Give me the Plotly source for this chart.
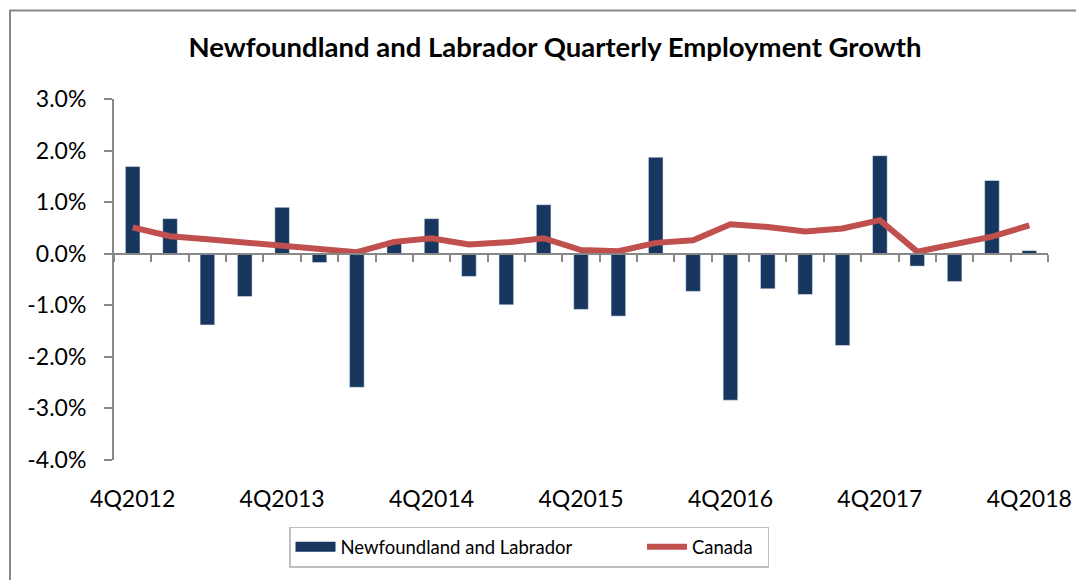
import plotly.graph_objects as go

quarters = ["4Q2012", "1Q2013", "2Q2013", "3Q2013", "4Q2013", "1Q2014", "2Q2014", "3Q2014",
            "4Q2014", "1Q2015", "2Q2015", "3Q2015", "4Q2015", "1Q2016", "2Q2016", "3Q2016",
            "4Q2016", "1Q2017", "2Q2017", "3Q2017", "4Q2017", "1Q2018", "2Q2018", "3Q2018",
            "4Q2018"]
nl_growth = [1.69, 0.68, -1.38, -0.83, 0.90, -0.17, -2.59, 0.25, 0.68, -0.44, -0.99, 0.95,
             -1.08, -1.21, 1.87, -0.73, -2.84, -0.68, -0.79, -1.78, 1.90, -0.24, -0.54, 1.42,
             0.06]
canada_growth = [0.51, 0.34, 0.28, 0.22, 0.15, 0.10, 0.03, 0.23, 0.30, 0.18, 0.22, 0.30,
                 0.07, 0.05, 0.21, 0.26, 0.57, 0.52, 0.43, 0.49, 0.65, 0.04, 0.18, 0.33, 0.55]
x_labels = ["4Q2012", "4Q2013", "4Q2014", "4Q2015", "4Q2016", "4Q2017", "4Q2018"]
y_ticks = [-4, -3, -2, -1, 0, 1, 2, 3]
y_ticktext = ["-4.0%", "-3.0%", "-2.0%", "-1.0%", "0.0%", "1.0%", "2.0%", "3.0%"]

NAVY = "#17375E"
RED = "#C0504D"
GRAY = "#888888"
FONT = "Lato"
PAD = "\u2002"  # en space used to widen legend entries

fig = go.Figure()
fig.add_trace(go.Bar(x=quarters, y=nl_growth, name="Newfoundland and Labrador",
                     marker=dict(color=NAVY), showlegend=False, xaxis="x", yaxis="y"))
fig.add_trace(go.Scatter(x=[None], y=[None], mode="lines",
                         name="Newfoundland and Labrador" + PAD * 7,
                         line=dict(color=NAVY, width=10), xaxis="x", yaxis="y"))
fig.add_trace(go.Scatter(x=quarters, y=canada_growth, mode="lines", name="Canada" + PAD * 1,
                         line=dict(color=RED, width=6), xaxis="x2", yaxis="y"))

# page offset (browser body margin)
OFF = 8
PAGE_W, PAGE_H = 1084, 580
W, H = PAGE_W - OFF, PAGE_H - OFF
# plot area in page pixels
PX0, PX1, PY0, PY1 = 114, 1048, 99, 462
L, R, T, B = PX0 - OFF, PAGE_W - PX1, PY0 - OFF, PAGE_H - PY1
pw, ph = PX1 - PX0, PY1 - PY0

fig.update_layout(
    width=W, height=H, autosize=False,
    margin=dict(l=L, r=R, t=T, b=B),
    paper_bgcolor="white", plot_bgcolor="white",
    font=dict(family=FONT, size=20, color="#000000"),
    bargap=0.61,
    title=dict(text="<b>Newfoundland and Labrador Quarterly Employment Growth</b>",
               x=(555 - OFF) / W, xref="container", xanchor="center",
               y=1 - (47 - OFF) / H, yref="container", yanchor="middle",
               font=dict(family=FONT, size=27.5, color="#000000")),
    xaxis=dict(type="category", categoryorder="array", categoryarray=quarters,
               range=[-0.5, len(quarters) - 0.5],
               tickmode="array", tickvals=x_labels, ticktext=x_labels,
               ticks="", showline=False, showgrid=False, zeroline=False,
               ticklabelstandoff=23, tickfont=dict(size=23)),
    xaxis2=dict(type="category", categoryorder="array", categoryarray=quarters,
                overlaying="x", anchor="free", position=4 / 7,
                range=[-0.5, len(quarters) - 0.5],
                tickmode="array", tickvals=quarters, tickson="boundaries",
                ticks="outside", ticklen=7, tickwidth=2, tickcolor=GRAY,
                showticklabels=False, showline=True, linecolor=GRAY, linewidth=2,
                showgrid=False, zeroline=False),
    yaxis=dict(range=[-4, 3], tickmode="array", tickvals=y_ticks, ticktext=y_ticktext,
               ticks="outside", ticklen=8, tickwidth=2, tickcolor=GRAY,
               showline=True, linecolor=GRAY, linewidth=2,
               showgrid=False, zeroline=False, ticklabelstandoff=13,
               tickfont=dict(size=23)),
    legend=dict(orientation="h", x=(289 - PX0) / pw, xanchor="left",
                y=-(529 - PY1) / ph, yanchor="top",
                bordercolor="#BFBFBF", borderwidth=1.5, bgcolor="white",
                font=dict(size=18.5), itemwidth=40),
)

# outer chart-area border
fig.add_shape(type="rect", xref="paper", yref="paper",
              x0=(10 - PX0) / pw, x1=(PAGE_W + 10 - PX0) / pw,
              y0=-(PAGE_H + 10 - PY1) / ph, y1=(PY1 - 10) / ph,
              line=dict(color=GRAY, width=2), fillcolor="rgba(0,0,0,0)", layer="below")

fig.write_html("out.html")
